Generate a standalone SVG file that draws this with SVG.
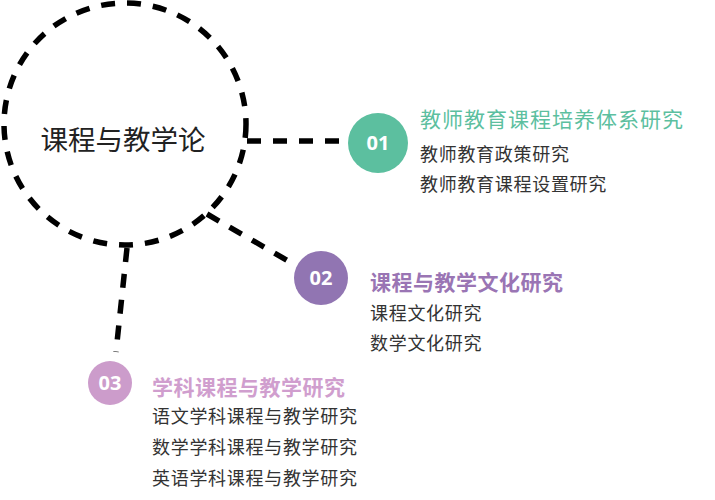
<svg xmlns="http://www.w3.org/2000/svg" width="715" height="500" viewBox="0 0 715 500">
<style>
.dash{fill:none;stroke:#000;stroke-width:5.5;stroke-dasharray:14 12}
.num{font-family:"Open Sans","Liberation Sans",sans-serif;font-weight:bold;font-size:20px;fill:#fff;text-anchor:middle}
.body{font-family:"Noto Sans CJK SC",sans-serif;font-size:18px;letter-spacing:0.7px;fill:#333}
.t1{font-family:"Noto Sans CJK SC",sans-serif;font-size:21px;letter-spacing:1px;fill:#5cbf9f}
.t2{font-family:"Noto Sans CJK SC",sans-serif;font-size:21px;letter-spacing:0.5px;font-weight:bold;fill:#9a75b4}
.t3{font-family:"Noto Sans CJK SC",sans-serif;font-size:21px;letter-spacing:0.5px;font-weight:bold;fill:#d09ece}
</style>
<rect width="715" height="500" fill="#fff"/>
<g id="connectors">
<line class="dash" x1="247" y1="141" x2="350" y2="141" stroke-dasharray="12 12"/>
<line class="dash" x1="207" y1="214" x2="290" y2="262" stroke-dasharray="16 12"/>
<line class="dash" x1="127" y1="248" x2="116" y2="352" stroke-dasharray="18 12"/>
</g>
<g id="center">
<circle class="dash" cx="125" cy="124" r="121" stroke-dasharray="22 17"/>
<text x="123" y="150" font-family="Noto Sans CJK SC,sans-serif" font-size="27.5" fill="#222" text-anchor="middle">课程与教学论</text>
</g>
<g id="node1">
<circle cx="378" cy="143" r="30" fill="#5cbf9f"/>
<text class="num" x="378" y="150">01</text>
<text class="t1" x="420" y="127">教师教育课程培养体系研究</text>
<text class="body" x="420" y="161">教师教育政策研究</text>
<text class="body" x="420" y="191">教师教育课程设置研究</text>
</g>
<g id="node2">
<circle cx="321" cy="278" r="27" fill="#9175b2"/>
<text class="num" x="321" y="285">02</text>
<text class="t2" x="370" y="290">课程与教学文化研究</text>
<text class="body" x="370" y="320">课程文化研究</text>
<text class="body" x="370" y="350">数学文化研究</text>
</g>
<g id="node3">
<circle cx="110" cy="383" r="22" fill="#cc9ccb"/>
<text class="num" x="110" y="390">03</text>
<text class="t3" x="152" y="395">学科课程与教学研究</text>
<text class="body" x="152" y="423">语文学科课程与教学研究</text>
<text class="body" x="152" y="454">数学学科课程与教学研究</text>
<text class="body" x="152" y="485">英语学科课程与教学研究</text>
</g>
</svg>
